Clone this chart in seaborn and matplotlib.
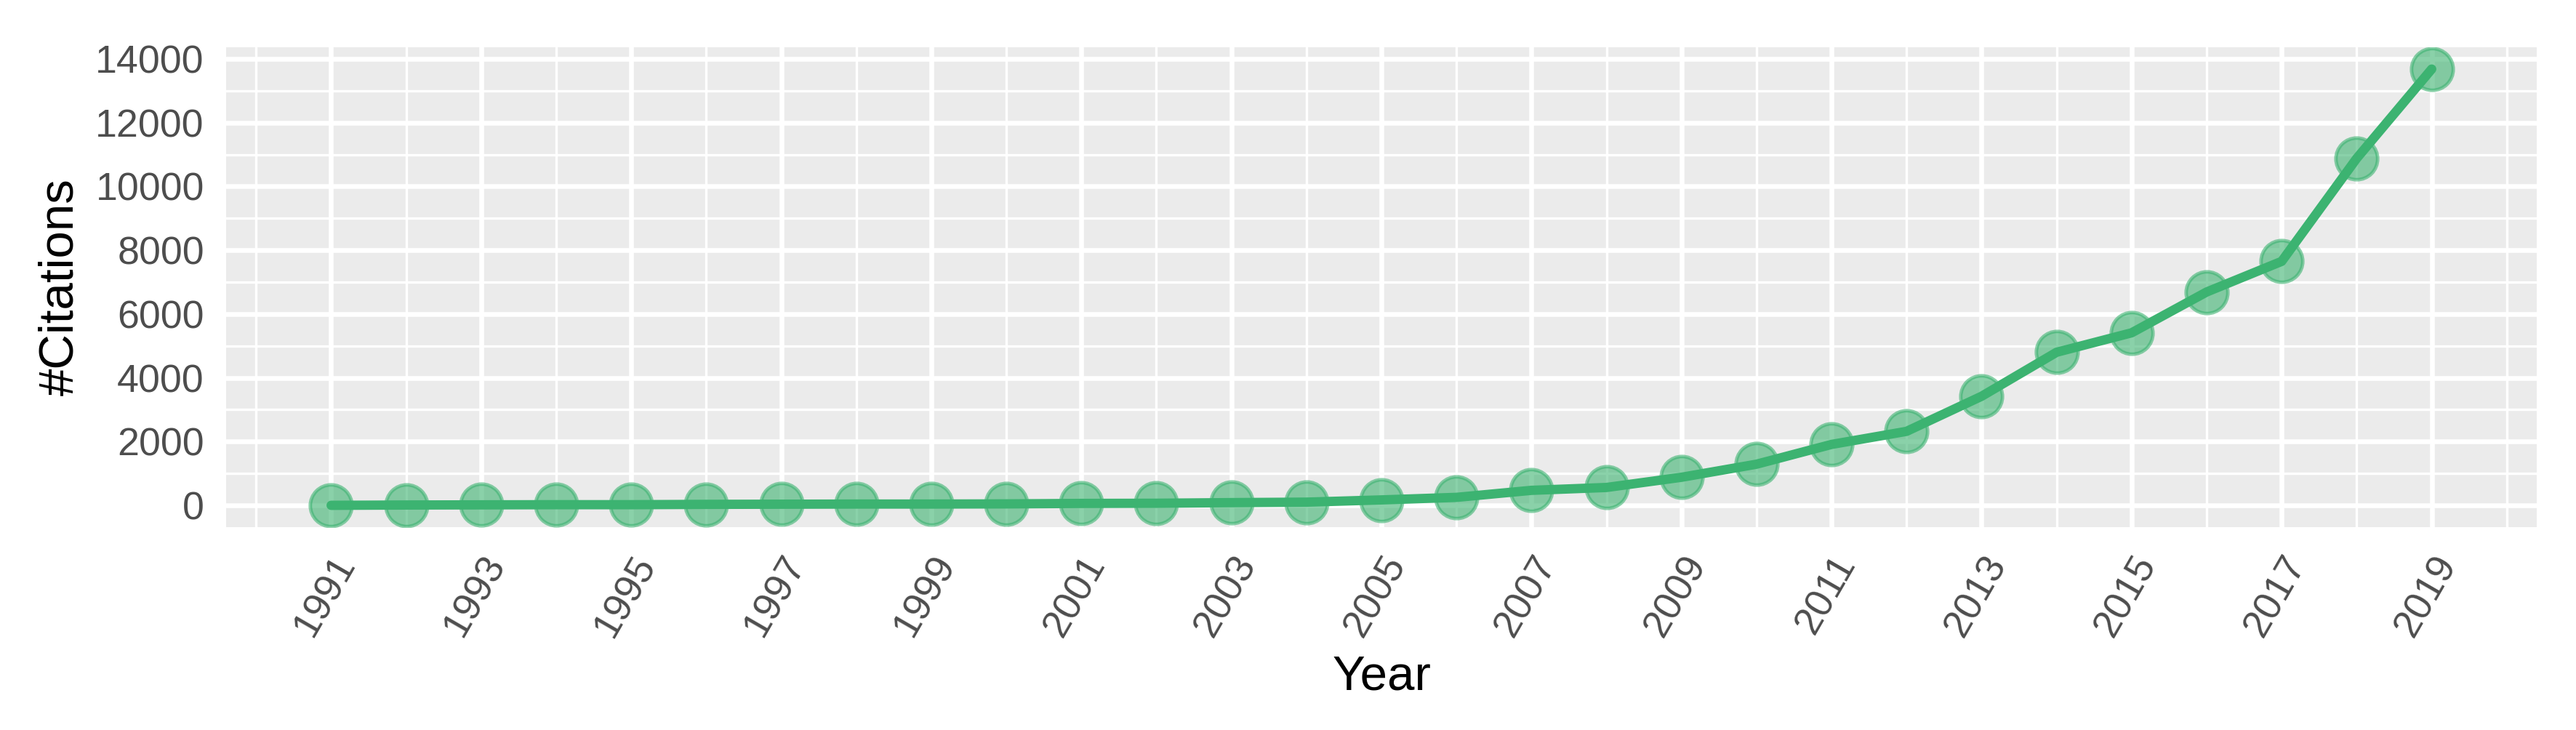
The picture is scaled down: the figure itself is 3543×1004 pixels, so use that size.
import numpy as np
import pandas as pd
import seaborn as sns
import matplotlib.pyplot as plt
from matplotlib.ticker import MultipleLocator

years = list(range(1991, 2020))
citations = [0, 10, 15, 20, 20, 30, 35, 40, 40, 45, 60, 65, 85, 100, 170,
             250, 470, 560, 880, 1290, 1910, 2320, 3420, 4800, 5410, 6690,
             7650, 10880, 13680]
x_ticks = list(range(1991, 2020, 2))
y_ticks = list(range(0, 14001, 2000))

GREEN = "#3CB371"
DPI = 440


def make_plot(df, output_plot="out.png"):
    sns.set_theme(style="darkgrid", rc={
        "axes.facecolor": "#EBEBEB",
        "grid.color": "white",
        "axes.edgecolor": "#EBEBEB",
    })
    plt.rcParams["font.family"] = ["Liberation Sans", "DejaVu Sans"]

    fig = plt.figure(figsize=(3543 / DPI, 1004 / DPI), dpi=DPI)
    left, right, top, bottom = 311, 3489, 65, 725
    ax = fig.add_axes([left / 3543, 1 - bottom / 1004,
                       (right - left) / 3543, (bottom - top) / 1004])

    # points first, line on top (like geom_point + geom_line)
    sns.scatterplot(data=df, x="Year", y="Citations", ax=ax, s=88,
                    color=GREEN, alpha=0.6, edgecolor=GREEN, linewidth=0.8,
                    zorder=3)
    sns.lineplot(data=df, x="Year", y="Citations", ax=ax, color=GREEN,
                 linewidth=2.1, zorder=4)

    # ggplot-like 5% expansion
    xr = df["Year"].max() - df["Year"].min()
    yr = df["Citations"].max() - df["Citations"].min()
    ax.set_xlim(df["Year"].min() - 0.05 * xr, df["Year"].max() + 0.05 * xr)
    ax.set_ylim(df["Citations"].min() - 0.05 * yr, df["Citations"].max() + 0.05 * yr)

    ax.set_xticks(x_ticks)
    ax.set_xticklabels([str(y) for y in x_ticks], rotation=60, ha="right",
                       rotation_mode="anchor")
    ax.set_yticks(y_ticks)
    ax.xaxis.set_minor_locator(MultipleLocator(1))
    ax.yaxis.set_minor_locator(MultipleLocator(1000))

    ax.grid(which="major", color="white", linewidth=1.07)
    ax.grid(which="minor", color="white", linewidth=0.55)
    for s in ax.spines.values():
        s.set_visible(False)

    ax.tick_params(axis="both", which="major", length=2.75, width=1.07,
                   color="#333333", labelcolor="#4D4D4D", labelsize=8.8, pad=2.2)
    ax.tick_params(axis="both", which="minor", length=0)

    ax.set_xlabel("Year", fontsize=11, color="black", labelpad=2.75)
    ax.set_ylabel("#Citations", fontsize=11, color="black", labelpad=2.75)

    fig.savefig(output_plot, dpi=DPI)


def main():
    df = pd.DataFrame({"Year": years, "Citations": citations})
    make_plot(df)


if __name__ == "__main__":
    main()
